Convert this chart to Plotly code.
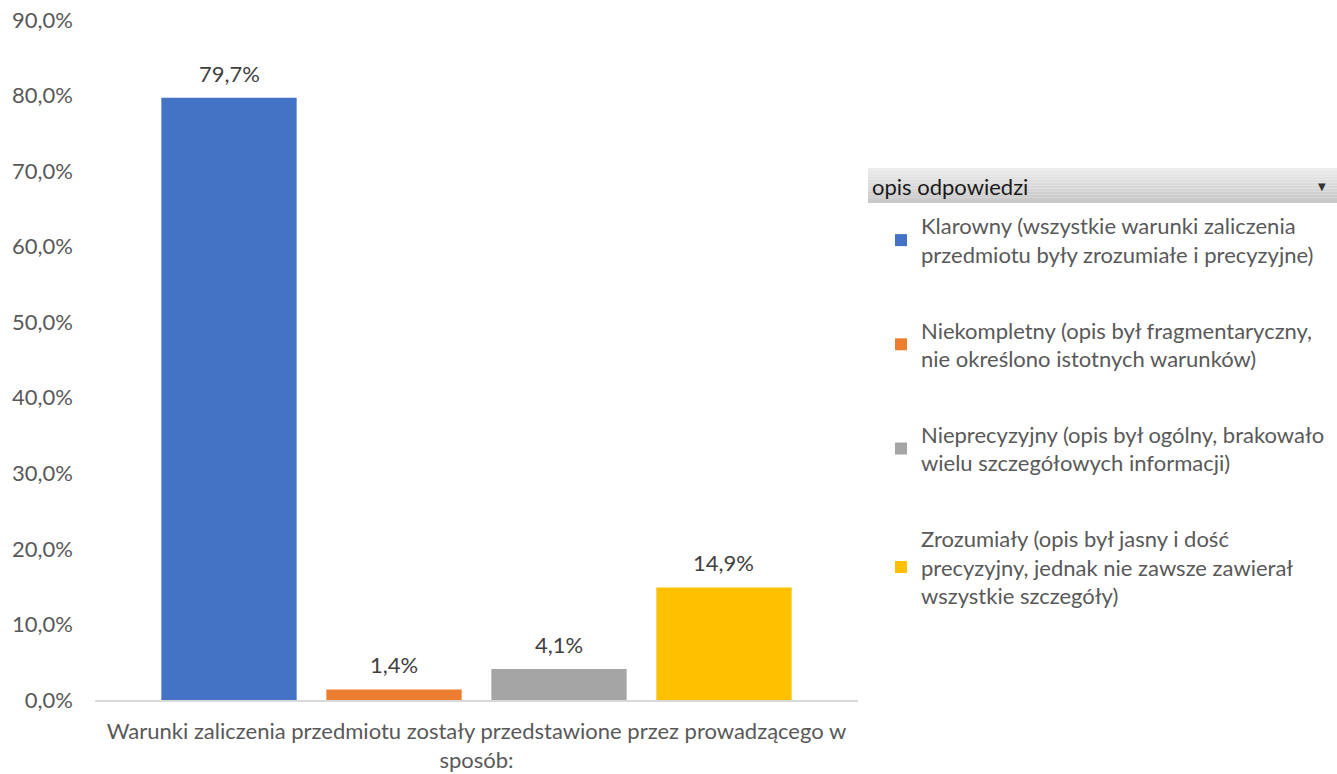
import plotly.graph_objects as go

category = "Warunki zaliczenia przedmiotu zostały przedstawione przez prowadzącego w<br>sposób:"
series_names = [
    "Klarowny (wszystkie warunki zaliczenia<br>przedmiotu były zrozumiałe i precyzyjne)",
    "Niekompletny (opis był fragmentaryczny,<br>nie określono istotnych warunków)",
    "Nieprecyzyjny (opis był ogólny, brakowało<br>wielu szczegółowych informacji)",
    "Zrozumiały (opis był jasny i dość<br>precyzyjny, jednak nie zawsze zawierał<br>wszystkie szczegóły)",
]
values = [79.7, 1.4, 4.1, 14.9]
colors = ["#4472C4", "#ED7D31", "#A5A5A5", "#FFC000"]
tick_vals = [0, 10, 20, 30, 40, 50, 60, 70, 80, 90]
legend_title = "opis odpowiedzi"


def pl(v):
    return f"{v:.1f}".replace(".", ",") + "%"


FONT = "Lato"
FS = 22
W, H = 1337, 774
ML, MR, MT, MB = 95, W - 858, 20, H - 700
PW = W - ML - MR
PH = H - MT - MB
BARGAP = 0.135
BARGROUPGAP = 0.18


def px_x(p):
    return (p - ML) / PW


def px_y(p):
    return (H - MB - p) / PH


fig = go.Figure()
n_series = len(values)
slot = PW * (1 - BARGAP) / n_series
for i, (name, v, c) in enumerate(zip(series_names, values, colors)):
    fig.add_trace(go.Bar(
        x=[category], y=[v], name=name,
        marker=dict(color=c, line=dict(width=0)),
        legendgroup=f"g{i}",
        hoverinfo="skip",
    ))
    fig.add_annotation(
        x=category, y=v, xref="x", yref="y", text=pl(v), showarrow=False,
        xanchor="center", yanchor="bottom", yshift=9,
        xshift=(i - (n_series - 1) / 2) * slot,
        font=dict(family=FONT, size=FS, color="#404040"),
    )

# legend header band (gradient imitation)
top, bot = 168, 203
n = 12
c0, c1 = (236, 236, 236), (200, 200, 200)
for k in range(n):
    t = k / (n - 1)
    col = tuple(int(c0[j] + (c1[j] - c0[j]) * t) for j in range(3))
    y0 = top + (bot - top) * k / n
    y1 = top + (bot - top) * (k + 1) / n
    fig.add_shape(type="rect", xref="paper", yref="paper",
                  x0=px_x(868), x1=px_x(1337), y0=px_y(y1), y1=px_y(y0),
                  fillcolor="rgb(%d,%d,%d)" % col, line=dict(width=0), layer="below")

fig.add_annotation(xref="paper", yref="paper", x=px_x(870), y=px_y(186),
                   text=legend_title, showarrow=False, xanchor="left", yanchor="middle",
                   font=dict(family=FONT, size=FS, color="#1A1A1A"))
fig.add_annotation(xref="paper", yref="paper", x=px_x(1322), y=px_y(186),
                   text="▼", showarrow=False, xanchor="center", yanchor="middle",
                   font=dict(family="DejaVu Sans", size=10, color="#333333"))

fig.update_layout(
    width=W, height=H,
    margin=dict(l=ML, r=MR, t=MT, b=MB, autoexpand=False),
    paper_bgcolor="white", plot_bgcolor="white",
    barmode="group", bargap=BARGAP, bargroupgap=BARGROUPGAP,
    separators=", ",
    showlegend=True,
    legend=dict(
        x=px_x(881), y=px_y(205), xanchor="left", yanchor="top",
        font=dict(family=FONT, size=FS, color="#595959"),
        tracegroupgap=44, traceorder="grouped",
        bgcolor="rgba(0,0,0,0)", itemclick=False, itemdoubleclick=False,
    ),
    font=dict(family=FONT, color="#595959"),
)
fig.update_yaxes(range=[0, 90], tickmode="array", tickvals=tick_vals,
                 ticktext=[pl(v) for v in tick_vals],
                 showgrid=False, zeroline=False, showline=False,
                 tickfont=dict(family=FONT, size=FS, color="#595959"), ticks="", ticklabelstandoff=21)
fig.update_xaxes(showline=True, linecolor="#D9D9D9", linewidth=2, showgrid=False,
                 tickfont=dict(family=FONT, size=FS, color="#595959"), ticks="",
                 ticklabelstandoff=11)

fig.write_html("out.html", post_script="document.body.style.margin='0';",
               config={"displayModeBar": False})
